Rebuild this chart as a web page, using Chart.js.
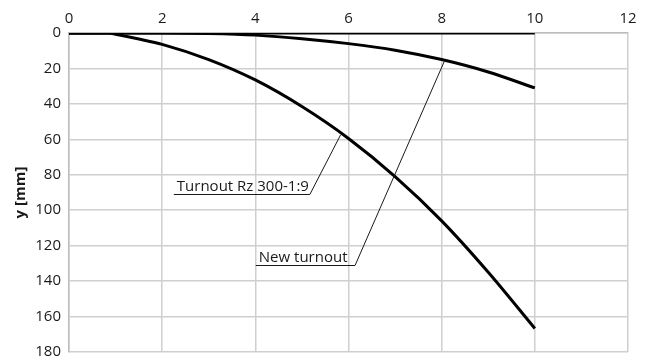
<!DOCTYPE html>
<html>
<head>
<meta charset="utf-8">
<script src="https://cdn.jsdelivr.net/npm/chart.js@4"></script>
<style>
  html, body { margin: 0; padding: 0; background: #fff; overflow: hidden; }
  #wrap { width: 648px; height: 356px; position: relative; }
</style>
</head>
<body>
<div id="wrap"><canvas id="myChart"></canvas></div>
<script>
// distance along the turnout [m] and lateral offset y [mm]
const baseX = [0, 10];
const baseY = [0, 0];

const newTurnoutX = [0, 1, 2, 3, 4, 5, 6, 7, 8, 9, 10];
const newTurnoutY = [0, 0, 0, 0.3, 1.2, 3.2, 6, 9.7, 15, 22, 31];

const rz300X = [0, 0.85, 1, 1.5, 2, 3, 4, 5, 6, 7, 8, 9, 10];
const rz300Y = [0, 0, 0.7, 3.4, 6.4, 15, 26.5, 41.5, 59.5, 81, 106, 135, 166.7];

const xTicks = [0, 2, 4, 6, 8, 10, 12];
const yTicks = [0, 20, 40, 60, 80, 100, 120, 140, 160, 180];

// callout labels: underline from x0 to x1 at y, then leader to the curve point
const callouts = [
  { text: 'Turnout Rz 300-1:9', x0: 2.25, x1: 5.17, y: 90.8, px: 5.83, py: 57.5 },
  { text: 'New turnout', x0: 4.01, x1: 6.14, y: 130.8, px: 8.06, py: 15.8 }
];

const FONT = "'Open Sans', sans-serif";
const INK = '#1a1a1a';

function toPoints(xs, ys) {
  return xs.map((x, i) => ({ x: x, y: ys[i] }));
}

const calloutPlugin = {
  id: 'callouts',
  afterDatasetsDraw(chart) {
    const ctx = chart.ctx;
    const sx = chart.scales.x, sy = chart.scales.y;
    ctx.save();
    ctx.strokeStyle = INK;
    ctx.lineWidth = 1;
    ctx.fillStyle = INK;
    ctx.font = '15px ' + FONT;
    ctx.textBaseline = 'alphabetic';
    ctx.textAlign = 'left';
    callouts.forEach(c => {
      const x0 = sx.getPixelForValue(c.x0);
      const x1 = sx.getPixelForValue(c.x1);
      const y = Math.round(sy.getPixelForValue(c.y)) + 0.5;
      ctx.beginPath();
      ctx.moveTo(x0, y);
      ctx.lineTo(x1, y);
      ctx.lineTo(sx.getPixelForValue(c.px), sy.getPixelForValue(c.py));
      ctx.stroke();
      ctx.fillText(c.text, x0 + 3, y - 3.5);
    });
    ctx.restore();
  }
};

function createTurnoutChart() {
  const ctx = document.getElementById('myChart').getContext('2d');
  const lineStyle = {
    borderColor: '#000',
    borderWidth: 3,
    pointRadius: 0,
    fill: false,
    cubicInterpolationMode: 'monotone'
  };
  new Chart(ctx, {
    type: 'scatter',
    data: {
      datasets: [
        Object.assign({ label: 'base', data: toPoints(baseX, baseY), showLine: true }, lineStyle),
        Object.assign({ label: 'New turnout', data: toPoints(newTurnoutX, newTurnoutY), showLine: true }, lineStyle),
        Object.assign({ label: 'Turnout Rz 300-1:9', data: toPoints(rz300X, rz300Y), showLine: true }, lineStyle)
      ]
    },
    options: {
      responsive: true,
      maintainAspectRatio: false,
      animation: false,
      layout: { padding: { left: 0, top: 0, right: 20, bottom: 4 } },
      plugins: { legend: { display: false }, tooltip: { enabled: false } },
      scales: {
        x: {
          type: 'linear',
          position: 'top',
          min: 0,
          max: 12,
          afterBuildTicks: s => { s.ticks = xTicks.map(v => ({ value: v })); },
          afterFit: s => { s.height = 33; s.paddingLeft = 0; s.paddingRight = 0; },
          grid: { color: '#cfcfcf', lineWidth: 1.5, drawTicks: false },
          border: { color: '#bdbdbd', width: 1.5 },
          ticks: { padding: 5, color: INK, font: { family: FONT, size: 15 } }
        },
        y: {
          type: 'linear',
          reverse: true,
          min: 0,
          max: 180,
          afterBuildTicks: s => { s.ticks = yTicks.map(v => ({ value: v })); },
          afterFit: s => { s.width = 69; s.paddingTop = 0; s.paddingBottom = 0; },
          grid: { color: '#cfcfcf', lineWidth: 1.5, drawTicks: false },
          border: { color: '#bdbdbd', width: 1.5 },
          ticks: { padding: 8, color: INK, font: { family: FONT, size: 15 } },
          title: {
            display: true,
            text: 'y [mm]',
            color: INK,
            padding: { top: 12, bottom: 0 },
            font: { family: FONT, size: 15, weight: 'bold' }
          }
        }
      }
    },
    plugins: [calloutPlugin]
  });
}

createTurnoutChart();
</script>
</body>
</html>
